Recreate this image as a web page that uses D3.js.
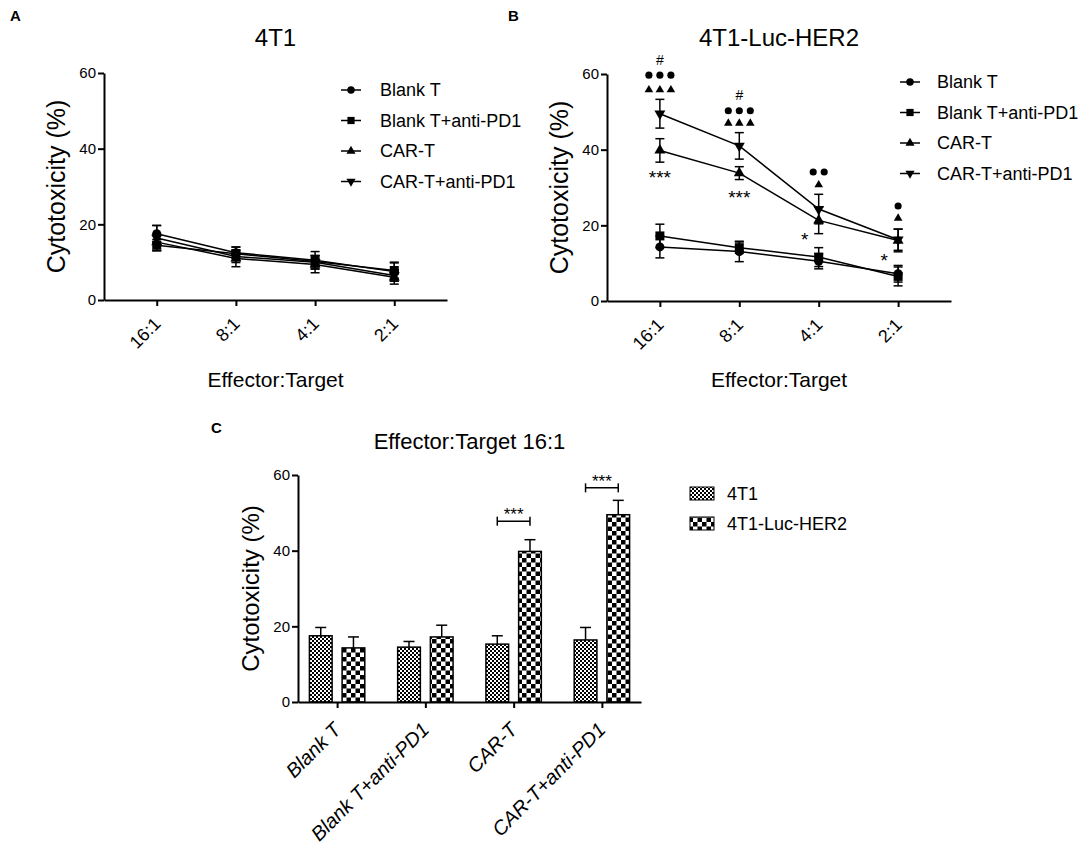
<!DOCTYPE html>
<html>
<head>
<meta charset="utf-8">
<script src="https://cdn.jsdelivr.net/npm/d3@7"></script>
<style>
body { margin: 0; background: #fff; }
svg { font-family: "Liberation Sans", Arial, sans-serif; }
.axis path, .axis line { stroke: #000; stroke-width: 2; }
.axis text { font-size: 15px; fill: #000; }
</style>
</head>
<body>
<svg id="fig" width="1084" height="854"></svg>
<script>
var ratios = ["16:1", "8:1", "4:1", "2:1"]
var groups = ["Blank T", "Blank T+anti-PD1", "CAR-T", "CAR-T+anti-PD1"]
var cells = ["4T1", "4T1-Luc-HER2"]
var yTicks = [0, 20, 40, 60]

// one row per group, one value per effector:target ratio
var mean4T1 = [[17.5, 12.5, 10.5, 7.5], [14.5, 12.2, 10.2, 7.8], [15.3, 11.0, 9.4, 6.0], [16.4, 11.5, 10.0, 6.5]]
var err4T1 = [[2.2, 1.5, 2.3, 2.5], [1.5, 1.8, 1.5, 2.0], [2.2, 2.2, 2.2, 1.8], [3.3, 1.6, 1.8, 1.5]]
var meanHER2 = [[14.3, 13.1, 10.5, 7.2], [17.2, 14.1, 11.6, 6.5], [39.8, 33.8, 21.3, 16.0], [49.5, 41.0, 24.3, 16.2]]
var errHER2 = [[2.9, 2.7, 2.0, 2.2], [3.1, 1.5, 2.5, 2.5], [3.1, 1.7, 3.5, 3.0], [3.8, 3.5, 3.9, 2.8]]

// significance marks of panel B (levels in % units)
var hashMarks = [{ r: "16:1", v: 63.7 }, { r: "8:1", v: 54.5 }]
var dotMarks = [{ r: "16:1", n: 3, v: 59.7 }, { r: "8:1", n: 3, v: 50.3 }, { r: "4:1", n: 2, v: 34.1 }, { r: "2:1", n: 1, v: 25.1 }]
var triMarks = [{ r: "16:1", n: 3, v: 55.8 }, { r: "8:1", n: 3, v: 47.0 }, { r: "4:1", n: 1, v: 30.7 }, { r: "2:1", n: 1, v: 21.9 }]
var starMarks = [{ r: "16:1", t: "***", v: 33.8, left: false }, { r: "8:1", t: "***", v: 28.6, left: false },
                 { r: "4:1", t: "*", v: 17.4, left: true }, { r: "2:1", t: "*", v: 11.9, left: true }]
// brackets of panel C
var barStars = [{ g: "CAR-T", v: 47.8 }, { g: "CAR-T+anti-PD1", v: 56.6 }]

var svg = d3.select("#fig")
var shapes = [d3.symbolCircle, d3.symbolSquare, d3.symbolTriangle, d3.symbolTriangle]
var flips = [0, 0, 0, 180]
var sizes = [64, 81, 52, 52]
var legSizes = [44, 52, 36, 36]

var defs = svg.append("defs")
var fine = defs.append("pattern").attr("id", "fine").attr("patternUnits", "userSpaceOnUse")
	.attr("width", 4).attr("height", 4)
fine.append("rect").attr("width", 4).attr("height", 4).attr("fill", "#fff")
fine.append("rect").attr("width", 2).attr("height", 2).attr("fill", "#000")
fine.append("rect").attr("x", 2).attr("y", 2).attr("width", 2).attr("height", 2).attr("fill", "#000")
var coarse = defs.append("pattern").attr("id", "coarse").attr("patternUnits", "userSpaceOnUse")
	.attr("width", 9).attr("height", 9)
coarse.append("rect").attr("width", 9).attr("height", 9).attr("fill", "#fff")
coarse.append("rect").attr("width", 4.5).attr("height", 4.5).attr("fill", "#000")
coarse.append("rect").attr("x", 4.5).attr("y", 4.5).attr("width", 4.5).attr("height", 4.5).attr("fill", "#000")
var fills = ["url(#fine)", "url(#coarse)"]

function panelLetter(t, px, py)
{
	svg.append("text").attr("x", px).attr("y", py).attr("font-size", 15).attr("font-weight", "bold").text(t)
}

function yAxis(g, y, x0)
{
	g.append("g").attr("class", "axis").attr("transform", "translate(" + x0 + ",0)")
		.call(d3.axisLeft(y).tickValues(yTicks).tickSize(6).tickSizeOuter(0).tickPadding(2))
}

function drawLinePanel(o)
{
	var g = svg.append("g")
	var x = d3.scalePoint().domain(ratios).range(o.xr).padding(0.666)
	var y = d3.scaleLinear().domain([0, 60]).range(o.yr)
	var cx = (o.xr[0] + o.xr[1]) / 2

	g.append("g").attr("class", "axis").attr("transform", "translate(0," + o.yr[0] + ")")
		.call(d3.axisBottom(x).tickSize(6).tickSizeOuter(0).tickFormat(""))
	yAxis(g, y, o.xr[0])

	g.selectAll(".xlab").data(ratios).enter().append("text")
		.attr("text-anchor", "end").attr("font-size", 18)
		.attr("transform", function(d) { return "translate(" + (x(d) + 5) + "," + (o.yr[0] + 25) + ") rotate(-45)" })
		.text(function(d) { return d })

	g.append("text").attr("x", cx).attr("y", 46).attr("text-anchor", "middle").attr("font-size", 24).text(o.title)
	g.append("text").attr("x", cx).attr("y", 387).attr("text-anchor", "middle").attr("font-size", 21).text("Effector:Target")
	g.append("text").attr("text-anchor", "middle").attr("font-size", 25)
		.attr("transform", "translate(" + (o.xr[0] - 39) + "," + ((o.yr[0] + o.yr[1]) / 2) + ") rotate(-90)")
		.text("Cytotoxicity (%)")

	var line = d3.line().x(function(d, i) { return x(ratios[i]) }).y(function(d) { return y(d) })
	o.means.forEach(function(m, gi)
	{
		g.append("path").attr("d", line(m)).attr("fill", "none").attr("stroke", "#000").attr("stroke-width", 1.5)
	})

	o.means.forEach(function(m, gi)
	{
		m.forEach(function(v, i)
		{
			var px = x(ratios[i]), e = o.errs[gi][i]
			var eb = g.append("g").attr("stroke", "#000").attr("stroke-width", 1.5)
			eb.append("line").attr("x1", px).attr("x2", px).attr("y1", y(v - e)).attr("y2", y(v + e))
			eb.append("line").attr("x1", px - 4.5).attr("x2", px + 4.5).attr("y1", y(v - e)).attr("y2", y(v - e))
			eb.append("line").attr("x1", px - 4.5).attr("x2", px + 4.5).attr("y1", y(v + e)).attr("y2", y(v + e))
		})
	})

	o.means.forEach(function(m, gi)
	{
		m.forEach(function(v, i)
		{
			g.append("path").attr("d", d3.symbol(shapes[gi], sizes[gi])())
				.attr("transform", "translate(" + x(ratios[i]) + "," + y(v) + ") rotate(" + flips[gi] + ")")
				.attr("fill", "#000")
		})
	})

	groups.forEach(function(name, gi)
	{
		var ly = o.leg.y + gi * 30.5
		g.append("line").attr("x1", o.leg.x).attr("x2", o.leg.x + 20).attr("y1", ly).attr("y2", ly)
			.attr("stroke", "#000").attr("stroke-width", 1.5)
		g.append("path").attr("d", d3.symbol(shapes[gi], legSizes[gi])())
			.attr("transform", "translate(" + (o.leg.x + 10) + "," + ly + ") rotate(" + flips[gi] + ")")
		g.append("text").attr("x", o.leg.tx).attr("y", ly).attr("dy", "0.36em").attr("font-size", 18).text(name)
	})

	return { g: g, x: x, y: y }
}

panelLetter("A", 10, 21)
panelLetter("B", 508, 21)
panelLetter("C", 211, 433)

drawLinePanel({ xr: [104, 447], yr: [300, 73], means: mean4T1, errs: err4T1, title: "4T1",
	leg: { x: 341, y: 90, tx: 380 } })

var pB = drawLinePanel({ xr: [607, 951], yr: [301, 74], means: meanHER2, errs: errHER2, title: "4T1-Luc-HER2",
	leg: { x: 900, y: 82, tx: 937 } })

// significance marks of panel B
hashMarks.forEach(function(d)
{
	pB.g.append("text").attr("x", pB.x(d.r)).attr("y", pB.y(d.v) + 5).attr("text-anchor", "middle")
		.attr("font-size", 14).text("#")
})
dotMarks.forEach(function(d)
{
	d3.range(d.n).forEach(function(k)
	{
		pB.g.append("path").attr("d", d3.symbol(d3.symbolCircle, 40)())
			.attr("transform", "translate(" + (pB.x(d.r) + (k - (d.n - 1) / 2) * 11) + "," + pB.y(d.v) + ")")
	})
})
triMarks.forEach(function(d)
{
	d3.range(d.n).forEach(function(k)
	{
		pB.g.append("path").attr("d", d3.symbol(d3.symbolTriangle, 32)())
			.attr("transform", "translate(" + (pB.x(d.r) + (k - (d.n - 1) / 2) * 11) + "," + pB.y(d.v) + ")")
	})
})
starMarks.forEach(function(d)
{
	pB.g.append("text").attr("x", pB.x(d.r) - (d.left ? 14 : 0)).attr("y", pB.y(d.v) + 11)
		.attr("text-anchor", "middle").attr("font-size", 19).text(d.t)
})

// panel C: bars at 16:1
var gC = svg.append("g")
var xC = d3.scalePoint().domain(groups).range([298, 641]).padding(0.443)
var xs = d3.scaleBand().domain(cells).range([-27.7, 27.7]).paddingInner(0.306)
var yC = d3.scaleLinear().domain([0, 60]).range([702, 475])
var barMean = [mean4T1.map(function(m) { return m[0] }), meanHER2.map(function(m) { return m[0] })]
var barErr = [err4T1.map(function(m) { return m[0] }), errHER2.map(function(m) { return m[0] })]

cells.forEach(function(c, ci)
{
	groups.forEach(function(gname, gi)
	{
		var v = barMean[ci][gi], e = barErr[ci][gi]
		var bx = xC(gname) + xs(c), mid = bx + xs.bandwidth() / 2
		gC.append("line").attr("x1", mid).attr("x2", mid).attr("y1", yC(v)).attr("y2", yC(v + e))
			.attr("stroke", "#000").attr("stroke-width", 1.5)
		gC.append("line").attr("x1", mid - 5.5).attr("x2", mid + 5.5).attr("y1", yC(v + e)).attr("y2", yC(v + e))
			.attr("stroke", "#000").attr("stroke-width", 1.5)
		gC.append("rect").attr("x", bx).attr("y", yC(v)).attr("width", xs.bandwidth()).attr("height", yC(0) - yC(v))
			.attr("fill", fills[ci]).attr("stroke", "#000").attr("stroke-width", 1.5)
	})
})

gC.append("g").attr("class", "axis").attr("transform", "translate(0,702)")
	.call(d3.axisBottom(xC).tickSize(6).tickSizeOuter(0).tickFormat(""))
yAxis(gC, yC, 298)

gC.selectAll(".xlab").data(groups).enter().append("text")
	.attr("text-anchor", "end").attr("font-size", 20).attr("font-style", "italic")
	.attr("transform", function(d) { return "translate(" + (xC(d) + 5) + ",731) rotate(-45)" })
	.text(function(d) { return d })

gC.append("text").attr("x", 469.5).attr("y", 449).attr("text-anchor", "middle").attr("font-size", 22)
	.text("Effector:Target 16:1")
gC.append("text").attr("text-anchor", "middle").attr("font-size", 24)
	.attr("transform", "translate(259," + ((702 + 475) / 2) + ") rotate(-90)")
	.text("Cytotoxicity (%)")

barStars.forEach(function(d)
{
	var x1 = xC(d.g) + xs(cells[0]) + xs.bandwidth() / 2
	var x2 = xC(d.g) + xs(cells[1]) + xs.bandwidth() / 2
	var by = yC(d.v)
	var br = gC.append("g").attr("stroke", "#000").attr("stroke-width", 1.5)
	br.append("line").attr("x1", x1).attr("x2", x2).attr("y1", by).attr("y2", by)
	br.append("line").attr("x1", x1).attr("x2", x1).attr("y1", by - 4.5).attr("y2", by + 4.5)
	br.append("line").attr("x1", x2).attr("x2", x2).attr("y1", by - 4.5).attr("y2", by + 4.5)
	gC.append("text").attr("x", (x1 + x2) / 2).attr("y", by - 1).attr("text-anchor", "middle")
		.attr("font-size", 17).text("***")
})

cells.forEach(function(c, ci)
{
	var ly = 493.5 + ci * 30
	gC.append("rect").attr("x", 690).attr("y", ly - 6.5).attr("width", 24).attr("height", 13)
		.attr("fill", fills[ci]).attr("stroke", "#000").attr("stroke-width", 1)
	gC.append("text").attr("x", 727).attr("y", ly).attr("dy", "0.36em").attr("font-size", 18).text(c)
})
</script>
</body>
</html>
